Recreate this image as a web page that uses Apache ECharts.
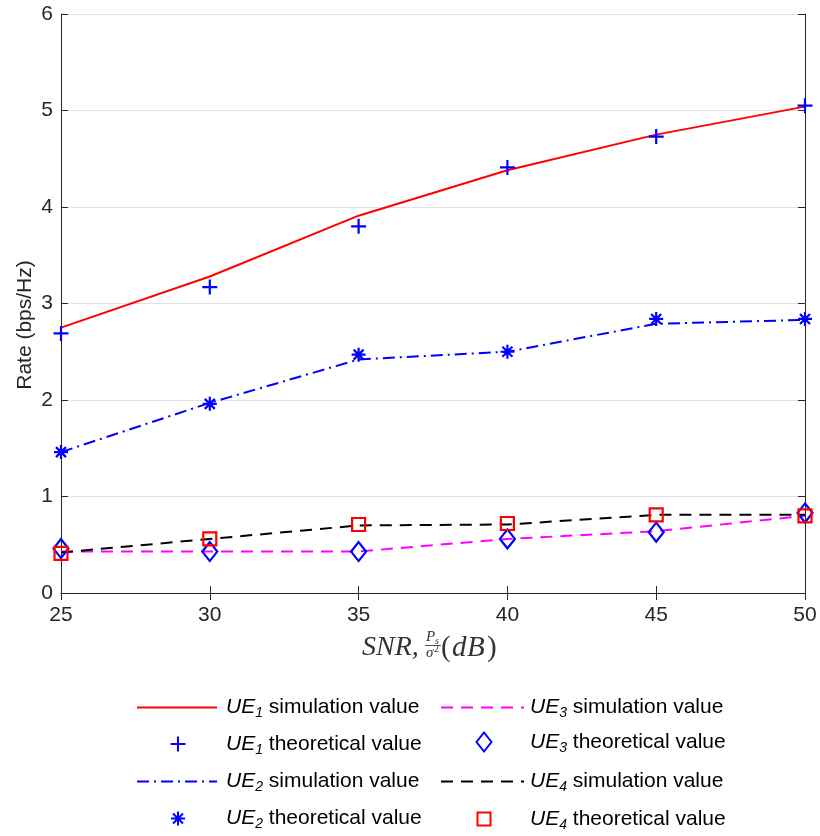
<!DOCTYPE html>
<html>
<head>
<meta charset="utf-8">
<script src="https://cdn.jsdelivr.net/npm/echarts@6/dist/echarts.min.js"></script>
<style>html,body{margin:0;padding:0;background:#fff;}#c{width:820px;height:836px;}</style>
</head>
<body>
<div id="c"></div>
<script>
// ---- data ----
const snr = [25, 30, 35, 40, 45, 50];
const ue1Sim = [2.75, 3.28, 3.91, 4.38, 4.75, 5.04];
const ue1Theo = [2.69, 3.17, 3.80, 4.41, 4.73, 5.05];
const ue2Sim = [1.46, 1.97, 2.42, 2.50, 2.79, 2.83];
const ue2Theo = [1.46, 1.96, 2.47, 2.50, 2.84, 2.84];
const ue3Sim = [0.43, 0.43, 0.43, 0.56, 0.64, 0.80];
const ue3Theo = [0.46, 0.43, 0.43, 0.56, 0.63, 0.83];
const ue4Sim = [0.42, 0.56, 0.70, 0.71, 0.81, 0.81];
const ue4Theo = [0.41, 0.56, 0.71, 0.72, 0.81, 0.80];
const yTicks = [0, 1, 2, 3, 4, 5, 6];
const xTicks = [25, 30, 35, 40, 45, 50];

const SANS = "'Liberation Sans', Arial, Helvetica, sans-serif";
const SERIF = "'Liberation Serif', 'Times New Roman', serif";
const AX = '#262626';
const LBL = '#333';

const pts = arr => snr.map((x, i) => [x, arr[i]]);

const PLUS = 'path://M7,0V14M0,7H14';
const STAR = 'path://M7,0V14M0,7H14M2,2L12,12M2,12L12,2';
const DIAM = 'path://M7.5,0L15,9.5L7.5,19L0,9.5Z';

function lineSeries(name, data, color, type) {
  return {
    name, type: 'line', data: pts(data), symbol: 'none', showSymbol: false,
    lineStyle: { color, width: 2, type }, itemStyle: { color },
    z: 2, silent: true
  };
}
function markSeries(name, data, symbol, size, color) {
  return {
    name, type: 'scatter', data: pts(data), symbol, symbolSize: size,
    itemStyle: { color: 'rgba(0,0,0,0)', borderColor: color, borderWidth: 2.2, opacity: 1 },
    z: 3, silent: true
  };
}

const series = [
  lineSeries('UE1 simulation value', ue1Sim, '#ff0000', 'solid'),
  markSeries('UE1 theoretical value', ue1Theo, PLUS, 15, '#0000ff'),
  lineSeries('UE2 simulation value', ue2Sim, '#0000ff', [12, 5, 2, 5]),
  markSeries('UE2 theoretical value', ue2Theo, STAR, 14, '#0000ff'),
  lineSeries('UE3 simulation value', ue3Sim, '#ff00ff', [12, 8]),
  markSeries('UE3 theoretical value', ue3Theo, DIAM, [15, 19], '#0000ff'),
  lineSeries('UE4 simulation value', ue4Sim, '#000000', [12, 8]),
  markSeries('UE4 theoretical value', ue4Theo, 'rect', 13, '#ff0000')
];

const rich = {
  i: { fontStyle: 'italic', fontSize: 21, fontFamily: SANS, color: '#000', lineHeight: 26 },
  s: { fontStyle: 'italic', fontSize: 14, fontFamily: SANS, color: '#000', lineHeight: 16, verticalAlign: 'bottom' },
  t: { fontSize: 21, fontFamily: SANS, color: '#000', lineHeight: 26 }
};
function legendFmt(name) {
  return '{i|UE}{s|' + name.charAt(2) + '}{t|' + name.slice(3) + '}';
}
const rowY = [704, 741, 778, 815];
const iconCX = [177, 483];
const textX = [225, 529];
const legends = series.map((s, k) => {
  const col = k < 4 ? 0 : 1;
  const row = k % 4;
  const isLine = s.type === 'line';
  let iw, ih, left;
  if (isLine) {
    iw = col === 0 ? 80 : 83; ih = 14; left = col === 0 ? 136 : 440;
  } else {
    const sz = Array.isArray(s.symbolSize) ? s.symbolSize : [s.symbolSize, s.symbolSize];
    iw = sz[0]; ih = sz[1]; left = iconCX[col] - iw / 2;
  }
  const pad = textX[col] - (left + iw + 5);
  const lg = {
    show: true, orient: 'vertical', padding: 0,
    left, top: rowY[row] - ih / 2,
    itemWidth: iw, itemHeight: ih,
    symbolKeepAspect: true,
    selectedMode: false,
    data: [s.name],
    formatter: legendFmt,
    textStyle: { rich, padding: [0, 0, 0, pad] }
  };
  if (isLine) lg.itemStyle = { opacity: 0 };
  return lg;
});

const chart = echarts.init(document.getElementById('c'), null, { renderer: 'canvas' });
chart.setOption({
  animation: false,
  backgroundColor: '#fff',
  grid: { left: 61, right: 15, top: 14, bottom: 243, containLabel: false },
  xAxis: [{
    type: 'value', min: xTicks[0], max: xTicks[xTicks.length - 1], interval: 5, position: 'bottom',
    axisLine: { show: true, lineStyle: { color: AX, width: 1 } },
    axisTick: { show: true, inside: true, length: 7, lineStyle: { color: AX } },
    axisLabel: { color: AX, fontSize: 21, fontFamily: SANS, margin: 12 },
    splitLine: { show: false }
  }, {
    type: 'value', min: xTicks[0], max: xTicks[xTicks.length - 1], interval: 5, position: 'top',
    axisLine: { show: true, lineStyle: { color: AX, width: 1 } },
    axisTick: { show: true, inside: true, length: 7, lineStyle: { color: AX } },
    axisLabel: { show: false }, splitLine: { show: false }
  }],
  yAxis: [{
    type: 'value', min: yTicks[0], max: yTicks[yTicks.length - 1], interval: 1, position: 'left',
    axisLine: { show: true, lineStyle: { color: AX, width: 1 } },
    axisTick: { show: true, inside: true, length: 7, lineStyle: { color: AX } },
    axisLabel: { color: AX, fontSize: 21, fontFamily: SANS, margin: 8 },
    splitLine: { show: true, lineStyle: { color: '#e2e2e2', width: 1 } }
  }, {
    type: 'value', min: yTicks[0], max: yTicks[yTicks.length - 1], interval: 1, position: 'right',
    axisLine: { show: true, lineStyle: { color: AX, width: 1 } },
    axisTick: { show: true, inside: true, length: 7, lineStyle: { color: AX } },
    axisLabel: { show: false }, splitLine: { show: false }
  }],
  legend: legends,
  series,
  graphic: [
    { type: 'text', x: 25, y: 325, rotation: Math.PI / 2, silent: true,
      style: { text: 'Rate (bps/Hz)', fontSize: 21, fontFamily: SANS, fill: AX, align: 'center', verticalAlign: 'middle' } },
    { type: 'text', x: 362, y: 648, silent: true,
      style: { text: 'SNR,', fontSize: 28, fontStyle: 'italic', fontFamily: SERIF, fill: LBL, align: 'left', verticalAlign: 'middle' } },
    { type: 'text', x: 426, y: 637, silent: true,
      style: { text: 'P', fontSize: 15, fontStyle: 'italic', fontFamily: SERIF, fill: LBL, align: 'left', verticalAlign: 'middle' } },
    { type: 'text', x: 435, y: 641, silent: true,
      style: { text: 's', fontSize: 10, fontStyle: 'italic', fontFamily: SERIF, fill: LBL, align: 'left', verticalAlign: 'middle' } },
    { type: 'line', silent: true, shape: { x1: 425, y1: 645.5, x2: 441, y2: 645.5 }, style: { stroke: '#555', lineWidth: 1 } },
    { type: 'text', x: 426, y: 653, silent: true,
      style: { text: 'σ', fontSize: 15, fontStyle: 'italic', fontFamily: SERIF, fill: LBL, align: 'left', verticalAlign: 'middle' } },
    { type: 'text', x: 434, y: 649, silent: true,
      style: { text: '2', fontSize: 10, fontFamily: SERIF, fill: LBL, align: 'left', verticalAlign: 'middle' } },
    { type: 'text', x: 441, y: 648, silent: true,
      style: { text: '(', fontSize: 29, fontFamily: SERIF, fill: LBL, align: 'left', verticalAlign: 'middle' } },
    { type: 'text', x: 452, y: 648, silent: true,
      style: { text: 'd', fontSize: 29, fontStyle: 'italic', fontFamily: SERIF, fill: LBL, align: 'left', verticalAlign: 'middle' } },
    { type: 'text', x: 467, y: 648, silent: true,
      style: { text: 'B', fontSize: 29, fontStyle: 'italic', fontFamily: SERIF, fill: LBL, align: 'left', verticalAlign: 'middle' } },
    { type: 'text', x: 487, y: 648, silent: true,
      style: { text: ')', fontSize: 29, fontFamily: SERIF, fill: LBL, align: 'left', verticalAlign: 'middle' } }
  ]
});
</script>
</body>
</html>
